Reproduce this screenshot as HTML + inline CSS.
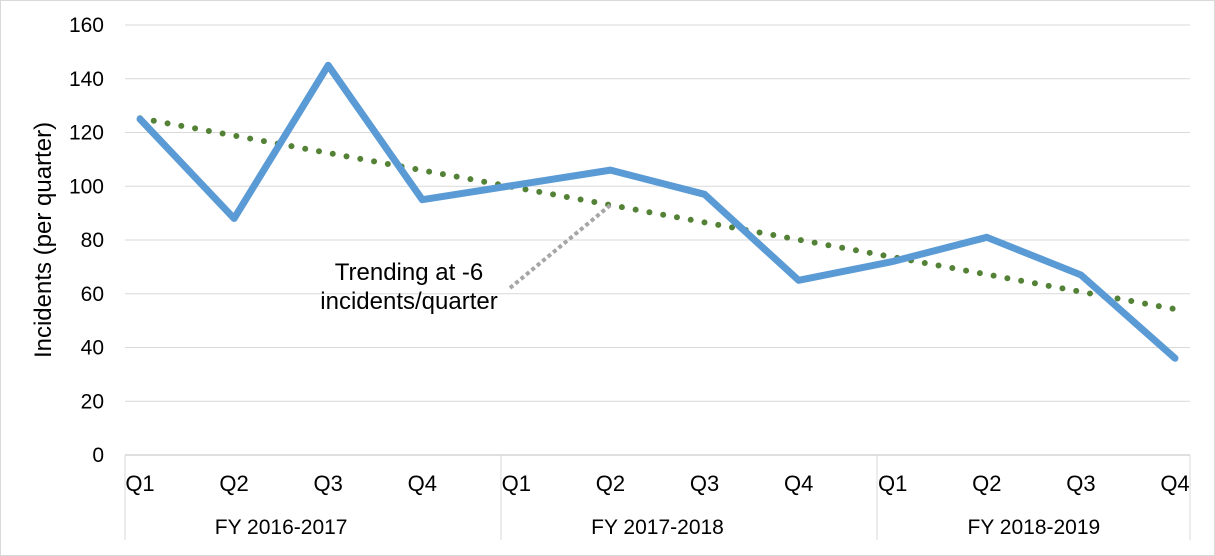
<!DOCTYPE html>
<html><head><meta charset="utf-8"><style>
body{margin:0;background:#fff}
svg{display:block;font-family:"Liberation Sans",Arial,sans-serif}
</style></head><body>
<svg id="chart" width="1215" height="556">
<rect x="0.5" y="0.5" width="1214" height="555" fill="#fff" stroke="#d9d9d9"/>
<g id="grid"></g><g id="axes"></g><g id="series"></g>
<text x="409" y="280" font-size="24" text-anchor="middle" fill="#000">Trending at -6</text>
<text x="409" y="309" font-size="24" text-anchor="middle" fill="#000">incidents/quarter</text>
<text transform="translate(51,240) rotate(-90)" font-size="24" text-anchor="middle">Incidents (per quarter)</text>
</svg>
<script>
const quarters=["Q1","Q2","Q3","Q4","Q1","Q2","Q3","Q4","Q1","Q2","Q3","Q4"];
const years=["FY 2016-2017","FY 2017-2018","FY 2018-2019"];
const incidents=[125,88,145,95,100.5,106,97,65,72,81,67,36];
const yTicks=[0,20,40,60,80,100,120,140,160];
const NS="http://www.w3.org/2000/svg";
const L=125,R=1190,T=25,B=455,X0=140,X1=1175;
const y=v=>B-(v/160)*(B-T);
const x=i=>X0+i*(X1-X0)/(quarters.length-1);
function mk(p,t,a){const e=document.createElementNS(NS,t);for(const k in a)e.setAttribute(k,a[k]);document.getElementById(p).appendChild(e);return e;}
yTicks.forEach(v=>{
 const g=mk('grid','line',{x1:L,x2:R,y1:y(v),y2:y(v),stroke:v===0?'#bfbfbf':'#d9d9d9','stroke-width':1});
 
 
 const t=mk('axes','text',{x:104,y:y(v)+7,'font-size':21,'text-anchor':'end'});t.textContent=v;
 
 
});
[L,501,877,R].forEach(gx=>{
 const l=mk('axes','line',{x1:gx,x2:gx,y1:B,y2:540,stroke:'#d9d9d9'});
 
 
});
quarters.forEach((q,i)=>{
 const t=mk('axes','text',{x:x(i),y:491,'font-size':22,'text-anchor':'middle'});t.textContent=q;
 
 
});
years.forEach((yr,i)=>{
 const t=mk('axes','text',{x:(x(i*4)+x(i*4+3))/2,y:534,'font-size':21,'text-anchor':'middle'});t.textContent=yr;
 
 
});
const n=incidents.length;let sx=0,sy=0,sxy=0,sxx=0;
incidents.forEach((v,i)=>{sx+=i;sy+=v;sxy+=i*v;sxx+=i*i;});
const m=(n*sxy-sx*sy)/(n*sxx-sx*sx),b=(sy-m*sx)/n;
const tr=mk('series','line',{x1:x(0),y1:y(b),x2:x(n-1),y2:y(b+m*(n-1)),stroke:'#538135','stroke-width':6,'stroke-dasharray':'0 14','stroke-linecap':'round'});


const ln=mk('series','polyline',{points:incidents.map((v,i)=>x(i)+','+y(v)).join(' '),fill:'none',stroke:'#5b9bd5','stroke-width':7,'stroke-linejoin':'round','stroke-linecap':'round'});


const ld=mk('series','line',{x1:510,y1:288,x2:x(5),y2:y(b+m*5),stroke:'#a6a6a6','stroke-width':4,'stroke-dasharray':'4 3'});


</script>
</body></html>
